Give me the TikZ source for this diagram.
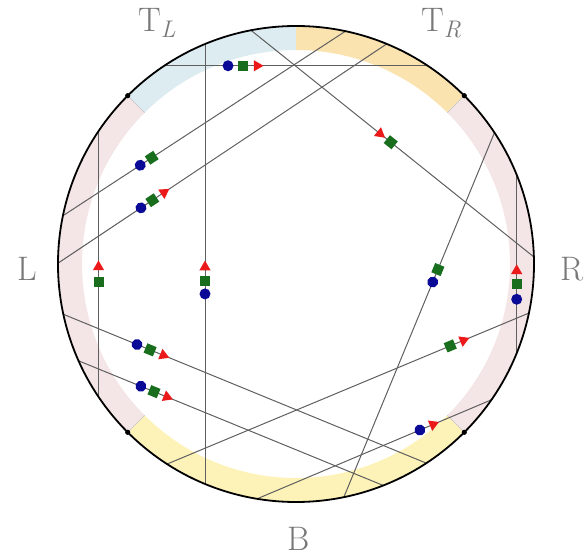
\documentclass[tikz,border=0pt]{standalone}
\usetikzlibrary{shapes.geometric}
\definecolor{bandblue}{RGB}{220,236,241}
\definecolor{bandorange}{RGB}{251,227,176}
\definecolor{bandpink}{RGB}{244,229,230}
\definecolor{bandyellow}{RGB}{253,243,184}
\definecolor{chordgray}{RGB}{95,95,95}
\definecolor{mknavy}{RGB}{10,10,150}
\definecolor{mkgreen}{RGB}{25,110,30}
\definecolor{mkred}{RGB}{235,25,25}
\definecolor{labelgray}{RGB}{120,120,120}
\begin{document}
\begin{tikzpicture}[x=1pt,y=1pt,
  chord/.style={draw=chordgray, line width=1pt},
  dotm/.style={circle, fill=mknavy, inner sep=0pt, minimum size=11pt, sloped},
  sqm/.style={rectangle, fill=mkgreen, inner sep=0pt, minimum size=10pt, sloped},
  trim/.style={regular polygon, regular polygon sides=3, shape border rotate=-90, fill=mkred, inner sep=0pt, minimum size=13pt, sloped},
  lab/.style={text=labelgray, font=\fontsize{34}{40}\selectfont, inner sep=0pt, anchor=base west},
  edgeline/.style={draw=gray!45, line width=0.6pt},
  ]
\useasboundingbox (-296,264) rectangle (288,-295);
\def\bandout{238}\def\bandin{214}
% coloured bands
\fill[bandorange] (45:\bandout) arc[start angle=45,end angle=90,radius=\bandout] -- (90:\bandin) arc[start angle=90,end angle=45,radius=\bandin] -- cycle;
\fill[bandblue] (90:\bandout) arc[start angle=90,end angle=135,radius=\bandout] -- (135:\bandin) arc[start angle=135,end angle=90,radius=\bandin] -- cycle;
\fill[bandpink] (135:\bandout) arc[start angle=135,end angle=225,radius=\bandout] -- (225:\bandin) arc[start angle=225,end angle=135,radius=\bandin] -- cycle;
\fill[bandyellow] (225:\bandout) arc[start angle=225,end angle=315,radius=\bandout] -- (315:\bandin) arc[start angle=315,end angle=225,radius=\bandin] -- cycle;
\fill[bandpink] (-45:\bandout) arc[start angle=-45,end angle=45,radius=\bandout] -- (45:\bandin) arc[start angle=45,end angle=-45,radius=\bandin] -- cycle;
\foreach \a in {45,135,225,315} \draw[edgeline] (\a:\bandin) -- (\a:\bandout);
% chord end points
\coordinate (h1) at (123.6:238); \coordinate (h2) at (56.4:238);
\coordinate (v1a) at (247.52:238); \coordinate (v1b) at (112.48:238);
\coordinate (v2a) at (213.92:238); \coordinate (v2b) at (146.08:238);
\coordinate (v3a) at (-21.98:238); \coordinate (v3b) at (21.98:238);
\coordinate (c5a) at (1.7:238); \coordinate (c5b) at (100.9:238);
\coordinate (c6a) at (168.3:238); \coordinate (c6b) at (78:238);
\coordinate (c7a) at (179.8:238); \coordinate (c7b) at (67.6:238);
\coordinate (c8a) at (33.5:238); \coordinate (c8b) at (-78.4:238);
\coordinate (c9a) at (192.2:238); \coordinate (c9b) at (-56.8:238);
\coordinate (c10a) at (204:238); \coordinate (c10b) at (-68.5:238);
\coordinate (c11a) at (237.2:238); \coordinate (c11b) at (-11.9:238);
\coordinate (c12a) at (260.6:238); \coordinate (c12b) at (-34.8:238);
% chords
\foreach \p/\q in {h1/h2,v1a/v1b,v2a/v2b,v3a/v3b,c5a/c5b,c6a/c6b,c7a/c7b,c8a/c8b,c9a/c9b,c10a/c10b,c11a/c11b,c12a/c12b}
  \draw[chord] (\p) -- (\q);
% markers
\path (h1) -- (h2) node[pos=0.242,dotm](hd){} node[pos=0.297,sqm](hs){} node[pos=0.352,trim](ht){};
\path (v1a) -- (v1b) node[pos=0.432,dotm](v1d){} node[pos=0.461,sqm](v1s){} node[pos=0.493,trim](v1t){};
\path (v2a) -- (v2b) node[pos=0.432,sqm](v2s){} node[pos=0.489,trim](v2t){};
\path (v3a) -- (v3b) node[pos=0.302,dotm](v3d){} node[pos=0.386,sqm](v3s){} node[pos=0.462,trim](v3t){};
\path (c5a) -- (c5b) node[pos=0.506,sqm](c5s){} node[pos=0.544,trim](c5t){};
\path (c6a) -- (c6b) node[pos=0.2735,dotm](c6d){} node[pos=0.3142,sqm](c6s){};
\path (c7a) -- (c7b) node[pos=0.2524,dotm](c7d){} node[pos=0.287,sqm](c7s){} node[pos=0.3225,trim](c7t){};
\path (c8a) -- (c8b) node[pos=0.3756,sqm](c8s){} node[pos=0.41,dotm](c8d){};
\path (c9a) -- (c9b) node[pos=0.203,dotm](c9d){} node[pos=0.239,sqm](c9s){} node[pos=0.2754,trim](c9t){};
\path (c10a) -- (c10b) node[pos=0.2045,dotm](c10d){} node[pos=0.2476,sqm](c10s){} node[pos=0.29,trim](c10t){};
\path (c11a) -- (c11b) node[pos=0.7827,sqm](c11s){} node[pos=0.8191,trim](c11t){};
\path (c12a) -- (c12b) node[pos=0.6946,dotm](c12d){} node[pos=0.7508,trim](c12t){};
% outer circle and division dots
\draw[line width=1.8pt] (0,0) circle[radius=238];
\foreach \a in {45,135,225,315} \fill (\a:238) circle[radius=2.6];
% labels
\node[lab] (tl) at (-158,232) {T\raisebox{-0.17em}{\fontsize{24}{24}\selectfont\itshape L}};
\node[lab] (tr) at (125,232) {T\raisebox{-0.17em}{\fontsize{24}{24}\selectfont\itshape R}};
\node[lab] (ll) at (-279,-17) {L};
\node[lab] (rr) at (264,-17) {R};
\node[lab] (bb) at (-9,-287) {B};
\end{tikzpicture}
\end{document}
